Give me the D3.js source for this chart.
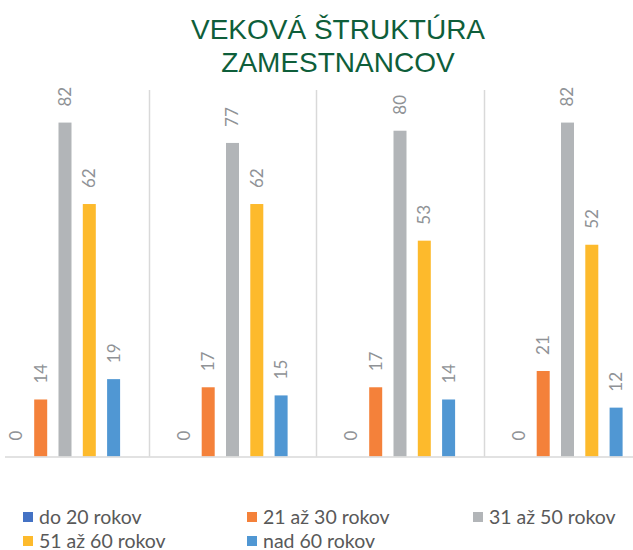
<!DOCTYPE html>
<html>
<head>
<meta charset="utf-8">
<script src="https://cdn.jsdelivr.net/npm/d3@7"></script>
<style>
    body { margin: 0; background: #fff; }
</style>
</head>
<body>
<div id="ChartDiv"></div>
<script>
var categories = ['1', '2', '3', '4'];
var series = ['do 20 rokov', '21 až 30 rokov', '31 až 50 rokov', '51 až 60 rokov', 'nad 60 rokov'];
var values = [
    [0, 14, 82, 62, 19],
    [0, 17, 77, 62, 15],
    [0, 17, 80, 53, 14],
    [0, 21, 82, 52, 12]
];
var colors = ['#4472C4', '#F4813A', '#B2B5B8', '#FDBA2C', '#5097D3'];
var yMax = 90;

var width = 633, height = 550;
var svg = d3.select('#ChartDiv').append('svg')
    .attr('width', width)
    .attr('height', height);

// title
var title = svg.append('text')
    .attr('text-anchor', 'middle')
    .style('font-family', '"Liberation Sans", Arial, sans-serif')
    .style('font-size', '28px')
    .style('fill', '#0E5E3A');
title.append('tspan').attr('x', 338).attr('y', 39).text('VEKOVÁ ŠTRUKTÚRA');
title.append('tspan').attr('x', 338).attr('y', 72).text('ZAMESTNANCOV');

var y = d3.scaleLinear().domain([0, yMax]).range([456.5, 90]);
var x0 = d3.scaleBand().domain(categories).range([-18.75, 651.25]);
var x1 = d3.scaleBand().domain(series).range([23, 144.5])
    .paddingInner(0.465).paddingOuter(0.2325);

// separators between groups
svg.selectAll('line.sep').data(categories.slice(1)).enter().append('line')
    .attr('class', 'sep')
    .attr('x1', function (d) { return Math.round(x0(d)) + 0.5; })
    .attr('x2', function (d) { return Math.round(x0(d)) + 0.5; })
    .attr('y1', y(yMax))
    .attr('y2', y(0))
    .style('stroke', '#D9D9D9')
    .style('stroke-width', 1.5);

var groups = svg.selectAll('g.grp').data(categories).enter().append('g')
    .attr('class', 'grp')
    .attr('transform', function (d) { return 'translate(' + x0(d) + ',0)'; });

groups.selectAll('rect').data(function (d, i) {
    return values[i].map(function (v, j) { return { s: series[j], v: v, c: colors[j] }; });
}).enter().append('rect')
    .attr('x', function (d) { return x1(d.s); })
    .attr('width', x1.bandwidth())
    .attr('y', function (d) { return y(d.v); })
    .attr('height', function (d) { return y(0) - y(d.v); })
    .style('fill', function (d) { return d.c; });

groups.selectAll('text.lbl').data(function (d, i) {
    return values[i].map(function (v, j) { return { s: series[j], v: v }; });
}).enter().append('text')
    .attr('class', 'lbl')
    .attr('transform', function (d) {
        return 'translate(' + (x1(d.s) + x1.bandwidth() / 2) + ',' + (y(d.v) - 16) + ') rotate(-90)';
    })
    .attr('dy', '0.35em')
    .style('font-family', 'Lato, "Liberation Sans", sans-serif')
    .style('font-size', '17px')
    .style('fill', '#8F9296')
    .text(function (d) { return d.v; });

// baseline
svg.append('line')
    .attr('x1', 5).attr('x2', width)
    .attr('y1', y(0) + 0.5).attr('y2', y(0) + 0.5)
    .style('stroke', '#D9D9D9')
    .style('stroke-width', 1.5);

// legend
var legendPos = [[23, 517], [247, 517], [473, 517], [23, 541], [247, 541]];
var legend = svg.selectAll('g.leg').data(series).enter().append('g')
    .attr('class', 'leg')
    .attr('transform', function (d, i) { return 'translate(' + legendPos[i][0] + ',' + legendPos[i][1] + ')'; });
legend.append('rect')
    .attr('x', 0).attr('y', -5)
    .attr('width', 10).attr('height', 10)
    .style('fill', function (d, i) { return colors[i]; });
legend.append('text')
    .attr('x', 16).attr('dy', '0.35em')
    .style('font-family', 'Lato, "Liberation Sans", sans-serif')
    .style('font-size', '19.5px')
    .style('fill', '#595959')
    .text(function (d) { return d; });
</script>
</body>
</html>
